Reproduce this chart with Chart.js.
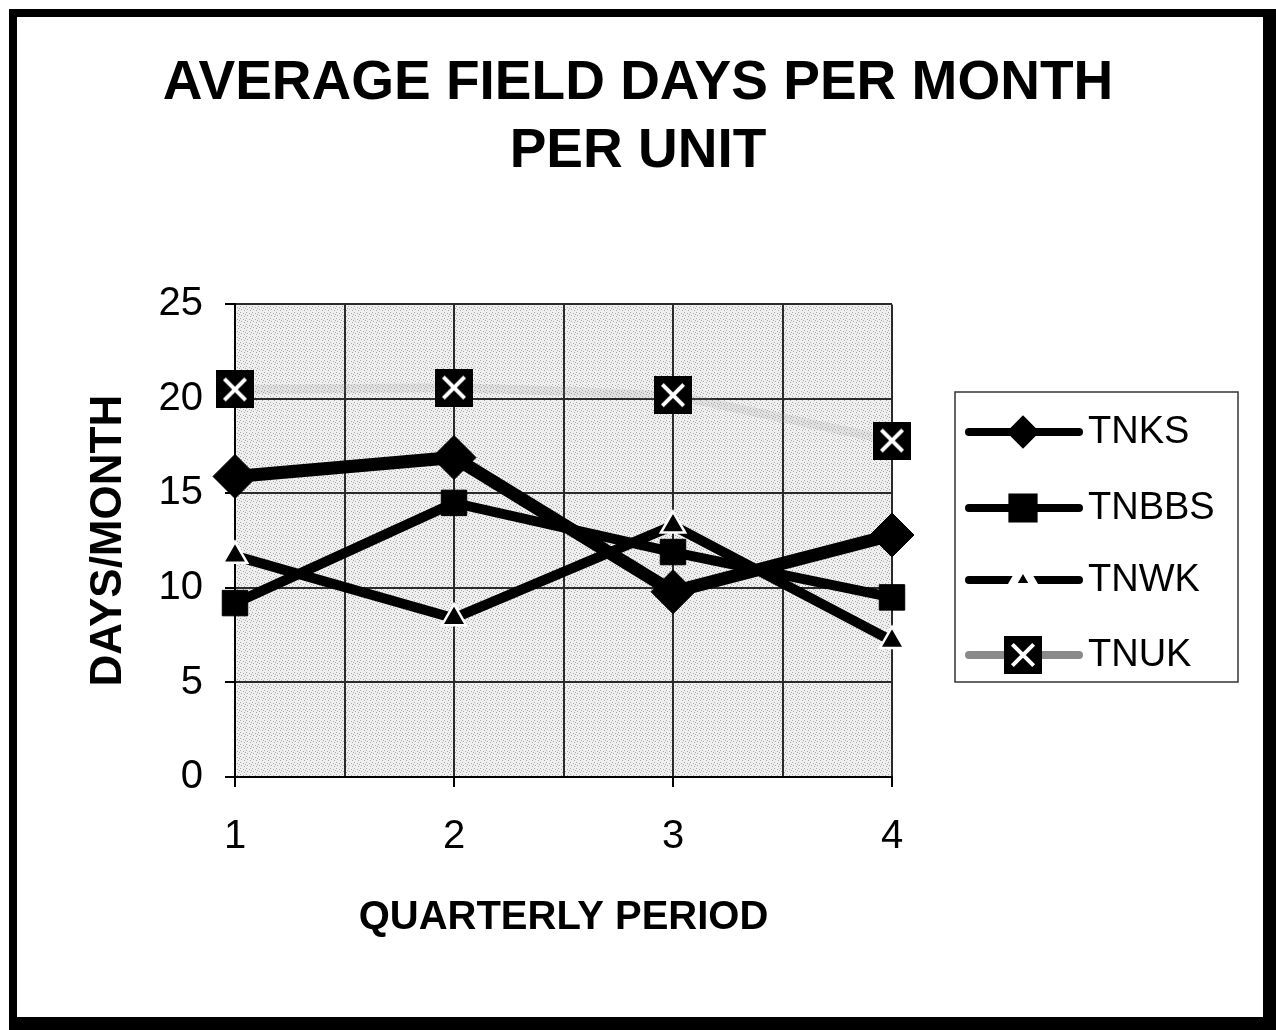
<!DOCTYPE html>
<html>
<head>
<meta charset="utf-8">
<script src="https://cdn.jsdelivr.net/npm/chart.js@4"></script>
<style>
  html, body { margin: 0; padding: 0; background: #fff; }
  #wrap { position: relative; width: 1276px; height: 1030px; }
  #frame {
    position: absolute; left: 9px; top: 9px; width: 1267px; height: 1021px;
    box-sizing: border-box; pointer-events: none;
    border-style: solid; border-color: #000;
    border-width: 8px 13px 13px 8px;
  }
</style>
</head>
<body>
<div id="wrap">
  <canvas id="chart" width="1276" height="1030"></canvas>
  <div id="frame"></div>
</div>
<script>
const quarters = [1, 2, 3, 4];
const seriesNames = ["TNKS", "TNBBS", "TNWK", "TNUK"];
const tnks = [15.9, 16.9, 9.8, 12.8];
const tnbbs = [9.2, 14.5, 11.9, 9.5];
const tnwk = [11.7, 8.4, 13.3, 7.2];
const tnuk = [20.5, 20.6, 20.2, 17.8];
const titleLines = ["AVERAGE FIELD DAYS PER MONTH", "PER UNIT"];

const FONT = "'Liberation Sans', Arial, sans-serif";

// black box with a white cross, used for TNUK
function crossBox(size) {
  const c = document.createElement("canvas");
  c.width = size; c.height = size;
  const g = c.getContext("2d");
  g.fillStyle = "#000";
  g.fillRect(0, 0, size, size);
  g.strokeStyle = "#fff";
  g.lineWidth = 4;
  const m = size * 0.22;
  g.beginPath();
  g.moveTo(m, m); g.lineTo(size - m, size - m);
  g.moveTo(size - m, m); g.lineTo(m, size - m);
  g.stroke();
  return c;
}
const ukMark = crossBox(38);

// speckled grey backdrop of the plot area
function speckle() {
  const c = document.createElement("canvas");
  c.width = 6; c.height = 6;
  const g = c.getContext("2d");
  g.fillStyle = "#efefef";
  g.fillRect(0, 0, 6, 6);
  g.fillStyle = "#a8a8a8";
  [[0, 0], [3, 1], [1, 3], [4, 4], [5, 2]].forEach(([x, y]) => g.fillRect(x, y, 1, 1));
  return c;
}

const toPoints = (vals) => vals.map((v, i) => ({ x: quarters[i], y: v }));

const datasets = [
  { label: seriesNames[0], data: toPoints(tnks), borderColor: "#000", backgroundColor: "#000",
    borderWidth: 13, pointStyle: "rectRot", pointRadius: 22, pointBorderWidth: 1,
    legendRadius: 11 },
  { label: seriesNames[1], data: toPoints(tnbbs), borderColor: "#000", backgroundColor: "#000",
    borderWidth: 10, pointStyle: "rect", pointRadius: 18, pointBorderWidth: 1,
    legendRadius: 15 },
  { label: seriesNames[2], data: toPoints(tnwk), borderColor: "#000", backgroundColor: "#000",
    borderWidth: 10, pointStyle: "triangle", pointRadius: 14, pointBorderWidth: 2.5,
    pointBorderColor: "#fff", legendRadius: 14 },
  { label: seriesNames[3], data: toPoints(tnuk), borderColor: "rgba(150,150,150,0.16)",
    backgroundColor: "#000", borderWidth: 9, pointStyle: ukMark, pointRadius: 19,
    legendRadius: 19, legendColor: "#8a8a8a" },
].map((d) => Object.assign({ tension: 0, clip: false }, d));

const plotBackground = {
  id: "plotBackground",
  beforeDraw(chart) {
    const { ctx, chartArea: a } = chart;
    ctx.save();
    ctx.fillStyle = ctx.createPattern(speckle(), "repeat");
    ctx.fillRect(a.left, a.top, a.right - a.left, a.bottom - a.top);
    ctx.restore();
  },
};

const sideLegend = {
  id: "sideLegend",
  afterDraw(chart) {
    const ctx = chart.ctx;
    const box = { left: 955, top: 392, right: 1238, bottom: 682 };
    const rows = [432, 508, 580, 655];
    ctx.save();
    ctx.strokeStyle = "#333";
    ctx.lineWidth = 1.5;
    ctx.strokeRect(box.left, box.top, box.right - box.left, box.bottom - box.top);
    chart.data.datasets.forEach((ds, i) => {
      const y = rows[i];
      ctx.strokeStyle = ds.legendColor || "#000";
      ctx.lineWidth = 8;
      ctx.lineCap = "round";
      ctx.beginPath();
      ctx.moveTo(969, y);
      ctx.lineTo(1079, y);
      ctx.stroke();
      ctx.fillStyle = "#000";
      ctx.strokeStyle = ds.pointBorderColor || "#000";
      Chart.helpers.drawPoint(ctx, {
        pointStyle: ds.pointStyle, radius: ds.legendRadius,
        rotation: 0, borderWidth: ds.pointBorderWidth || 1,
      }, 1023, y);
      ctx.fillStyle = "#000";
      ctx.font = "38px " + FONT;
      ctx.textAlign = "left";
      ctx.textBaseline = "middle";
      ctx.fillText(ds.label, 1088, y + 1);
    });
    ctx.restore();
  },
};

new Chart(document.getElementById("chart"), {
  type: "line",
  data: { datasets },
  plugins: [plotBackground, sideLegend],
  options: {
    responsive: false,
    animation: false,
    layout: { padding: { top: 50, left: 0, right: 0, bottom: 0 } },
    plugins: {
      legend: { display: false },
      tooltip: { enabled: false },
      title: {
        display: true,
        text: titleLines,
        color: "#000",
        font: { family: FONT, size: 55, weight: "bold", lineHeight: 1.24 },
        padding: { top: 0, bottom: 118 },
      },
    },
    scales: {
      x: {
        type: "linear",
        min: 1, max: 4,
        afterFit: (s) => { s.height = 253; },
        ticks: {
          stepSize: 0.5, autoSkip: false, maxRotation: 0, padding: 26,
          color: "#000", font: { family: FONT, size: 40 },
          callback: (v) => (Number.isInteger(v) ? String(v) : ""),
        },
        grid: {
          color: "#2a2a2a", lineWidth: 2, tickLength: 10,
          tickColor: (c) => (c.tick && Number.isInteger(c.tick.value) ? "#000" : "rgba(0,0,0,0)"),
        },
        border: { color: "#000", width: 2 },
        title: {
          display: true, text: "QUARTERLY PERIOD", color: "#000",
          font: { family: FONT, size: 40, weight: "bold", lineHeight: 1.2 },
          padding: { top: 0, bottom: 88 },
        },
      },
      y: {
        min: 0, max: 25,
        afterFit: (s) => { s.width = 235; },
        ticks: { stepSize: 5, padding: 22, color: "#000", font: { family: FONT, size: 40 } },
        grid: { color: "#2a2a2a", lineWidth: 2, tickLength: 10, tickColor: "#000" },
        border: { color: "#000", width: 2 },
        title: {
          display: true, text: "DAYS/MONTH", color: "#000",
          font: { family: FONT, size: 44, weight: "bold", lineHeight: 1.2 },
          padding: { top: 82, bottom: 0 },
        },
      },
      // empty strip on the right that leaves room for the legend
      side: {
        position: "right",
        afterFit: (s) => { s.width = 384; },
        ticks: { display: false },
        grid: { display: false },
        border: { display: false },
      },
    },
  },
});
</script>
</body>
</html>
